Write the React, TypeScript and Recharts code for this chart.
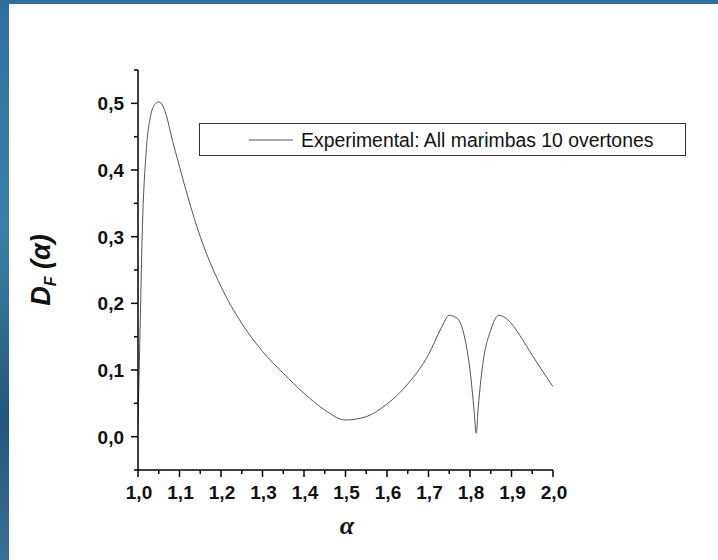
import React from "react";
import { LineChart, Line, XAxis, YAxis, Legend } from "recharts";

const alphaValues = [
  1.0, 1.005, 1.01, 1.02, 1.03, 1.04, 1.05, 1.06, 1.07, 1.08, 1.1, 1.12, 1.15,
  1.2, 1.25, 1.3, 1.35, 1.4, 1.45, 1.5, 1.55, 1.6, 1.65, 1.7, 1.73, 1.75, 1.77,
  1.79, 1.8, 1.81, 1.815, 1.82, 1.83, 1.85, 1.87, 1.89, 1.92, 1.95, 2.0,
];
const dfValues = [
  0.02, 0.16, 0.3, 0.43, 0.48, 0.498, 0.502, 0.496, 0.478, 0.452, 0.405, 0.36,
  0.3, 0.225, 0.17, 0.128, 0.095, 0.065, 0.04, 0.025, 0.03, 0.049, 0.079,
  0.123, 0.162, 0.182, 0.177, 0.14, 0.1, 0.038, 0.005, 0.045, 0.105, 0.16,
  0.182, 0.176, 0.152, 0.122, 0.075,
];

const xTicks = [
  1.0, 1.05, 1.1, 1.15, 1.2, 1.25, 1.3, 1.35, 1.4, 1.45, 1.5, 1.55, 1.6, 1.65,
  1.7, 1.75, 1.8, 1.85, 1.9, 1.95, 2.0,
];
const yTicks = [
  -0.05, 0.0, 0.05, 0.1, 0.15, 0.2, 0.25, 0.3, 0.35, 0.4, 0.45, 0.5, 0.55,
];
const seriesName = "Experimental: All marimbas 10 overtones";

const data = alphaValues.map((a, i) => ({ alpha: a, df: dfValues[i] }));

const tickFont = "'Liberation Sans Narrow', 'Liberation Sans', Arial, sans-serif";

const isMajor = (v: number) => Math.abs(v * 10 - Math.round(v * 10)) < 1e-6;
const fmt = (v: number) => v.toFixed(1).replace(".", ",");

const XTick = (props: any) => {
  const { x, y, payload } = props;
  const v = payload.value;
  const major = isMajor(v);
  return (
    <g>
      <line x1={x} x2={x} y1={y} y2={y + (major ? 7 : 4)} stroke="#000" strokeWidth={1.5} />
      {major && (
        <text x={x + 1} y={y + 29} textAnchor="middle" fontFamily={tickFont} fontWeight="bold" fontSize={19} fill="#111">
          {fmt(v)}
        </text>
      )}
    </g>
  );
};

const YTick = (props: any) => {
  const { x, y, payload } = props;
  const v = payload.value;
  const major = isMajor(v) && v >= 0 && v <= 0.5;
  return (
    <g>
      <line x1={x} x2={x - (major ? 7 : 4)} y1={y} y2={y} stroke="#000" strokeWidth={1.5} />
      {major && (
        <text x={x - 14} y={y + 7} textAnchor="end" fontFamily={tickFont} fontWeight="bold" fontSize={19} fill="#111">
          {fmt(Math.abs(v))}
        </text>
      )}
    </g>
  );
};

const LegendBox = () => (
  <div
    style={{
      width: 487,
      height: 33,
      boxSizing: "border-box",
      border: "1px solid #333",
      background: "#fff",
      position: "relative",
    }}
  >
    <svg width={487} height={33} style={{ position: "absolute", left: 0, top: 0 }}>
      <line x1={49} x2={93} y1={16} y2={16} stroke="#555" strokeWidth={1} />
      <text x={101} y={23} fontFamily="'Liberation Sans', Arial, sans-serif" fontSize={19.4} fill="#111">
        {seriesName}
      </text>
    </svg>
  </div>
);

export default function App() {
  return (
    <div
      style={{
        position: "absolute",
        left: 0,
        top: 0,
        width: 718,
        height: 560,
        background: "linear-gradient(180deg, #2f6f9f 0%, #3b82a8 40%, #25577f 75%, #3c6f95 100%)",
        overflow: "hidden",
      }}
    >
      <div style={{ position: "absolute", left: 9, top: 4, width: 709, height: 556, background: "#fff" }} />
      <div style={{ position: "absolute", left: 0, top: 0 }}>
        <LineChart width={718} height={560} data={data} margin={{ top: 70, right: 165, bottom: 0, left: 78 }}>
          <XAxis
            dataKey="alpha"
            type="number"
            domain={[1, 2]}
            ticks={xTicks}
            interval={0}
            tick={<XTick />}
            tickLine={false}
            tickSize={0}
            tickMargin={0}
            height={90}
            axisLine={{ stroke: "#000", strokeWidth: 1.5 }}
            allowDataOverflow
          />
          <YAxis
            type="number"
            domain={[-0.05, 0.55]}
            ticks={yTicks}
            interval={0}
            tick={<YTick />}
            tickLine={false}
            tickSize={0}
            tickMargin={0}
            width={60}
            axisLine={{ stroke: "#000", strokeWidth: 1.5 }}
            allowDataOverflow
          />
          <Legend
            layout="horizontal"
            verticalAlign="middle"
            align="center"
            wrapperStyle={{ position: "absolute", left: 199, top: 123, width: 487 }}
            content={<LegendBox />}
          />
          <Line
            type="monotone"
            dataKey="df"
            name={seriesName}
            stroke="#555"
            strokeWidth={1}
            dot={false}
            isAnimationActive={false}
          />
          <text
            x={50}
            y={270}
            transform="rotate(-90 50 270)"
            textAnchor="middle"
            fontFamily="'Liberation Sans', Arial, sans-serif"
            fontWeight="bold"
            fontStyle="italic"
            fontSize={27}
            fill="#111"
          >
            D
            <tspan fontSize={16} dy={6}>F</tspan>
            <tspan dy={-6}>{" (α)"}</tspan>
          </text>
          <text
            x={347}
            y={534}
            textAnchor="middle"
            fontFamily="'Liberation Serif', serif"
            fontWeight="bold"
            fontStyle="italic"
            fontSize={26}
            fill="#111"
          >
            α
          </text>
        </LineChart>
      </div>
    </div>
  );
}
